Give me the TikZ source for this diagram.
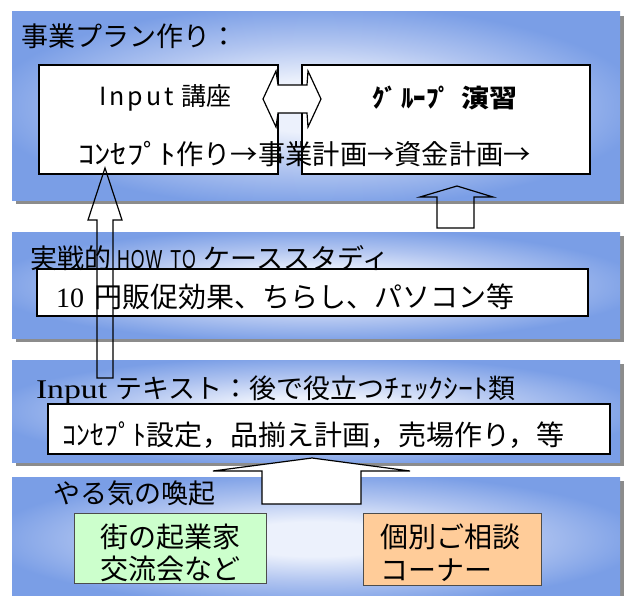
\documentclass[tikz,border=0pt]{standalone}
\usepackage{fontspec}
\usepackage{graphicx}
\usetikzlibrary{shadows}
\setmainfont{Noto Sans CJK JP}
\newfontfamily\ser{Liberation Serif}
\newfontfamily\lsans{Liberation Sans}
\definecolor{pblue}{RGB}{122,158,230}
\definecolor{pmid}{RGB}{176,196,240}
\definecolor{pcenter}{RGB}{236,241,252}
\definecolor{gbox}{RGB}{204,255,204}
\definecolor{obox}{RGB}{255,204,153}
\pgfdeclareradialshading{panelshade}{\pgfpoint{0bp}{0bp}}{color(0bp)=(pcenter); color(7bp)=(pcenter); color(17bp)=(pmid); color(27bp)=(pblue); color(50bp)=(pblue)}
\newcommand{\fs}[1]{\fontsize{#1}{#1}\selectfont}
\tikzset{
  panel/.style={shading=panelshade, anchor=north west, inner sep=0pt, outer sep=0pt,
    drop shadow={shadow xshift=4pt, shadow yshift=-4pt, opacity=0.45, fill=black}},
  wbox/.style={draw=black, line width=1.1pt, fill=white, anchor=north west, inner sep=0pt, outer sep=0pt},
  cbox/.style={draw=black!70, line width=0.8pt, anchor=north west, inner sep=0pt, outer sep=0pt},
  blockarrow/.style={draw=black, line width=1.2pt, line join=miter},
  txt/.style={inner sep=0pt, outer sep=0pt, text=black},
}
\begin{document}
\begin{tikzpicture}[x=1pt,y=-1pt]
\useasboundingbox (0,0) rectangle (631,596);
\fill[white] (0,0) rectangle (631,596);
% panels
\node[panel, minimum width=608pt, minimum height=188pt] (p1) at (12,12) {};
\node[panel, minimum width=608pt, minimum height=106pt] (p2) at (12,232) {};
\node[panel, minimum width=608pt, minimum height=102pt] (p3) at (12,360) {};
\node[panel, minimum width=608pt, minimum height=124pt] (p4) at (12,477) {};
% inner boxes
\node[wbox, minimum width=239pt, minimum height=109pt] (b1) at (39,65) {};
\node[wbox, minimum width=288pt, minimum height=109pt] (b2) at (302,65) {};
\node[wbox, minimum width=551pt, minimum height=47pt] (b3) at (37,269) {};
\node[wbox, minimum width=562pt, minimum height=50pt] (b4) at (48,404) {};
\node[cbox, fill=gbox, minimum width=192pt, minimum height=70pt] (g) at (74,513) {};
\node[cbox, fill=obox, minimum width=178pt, minimum height=72pt] (o) at (363,513) {};
% double arrow between b1 and b2
\draw[blockarrow, fill=white] (263,99) -- (276,71) -- (278,85) -- (307,85) -- (308,71) -- (321,99)
  -- (308,127) -- (307,113) -- (278,113) -- (276,127) -- cycle;
% texts
\node[txt, anchor=west] (t1) at (21,36) {\fs{27}事業プラン作り：};
\node[txt, anchor=west] (t2) at (99,98) {\fs{25}I\hspace{3pt}n\hspace{3pt}p\hspace{3pt}u\hspace{3pt}t\hspace{8pt}講座};
\node[txt, anchor=west] (t3) at (372,98) {\fs{25}\bfseries ｸﾞ\hspace{4pt}ﾙｰﾌﾟ\hspace{10pt}\scalebox{1.12}[1]{演習}};
\node[txt, anchor=west] (t4) at (78,154) {\fs{27.3}\scalebox{1.2}[1]{ｺﾝｾﾌﾟﾄ}作り→事業計画→資金計画→};
\node[txt, anchor=west] (t5) at (30,258) {\fs{27}実戦的\hspace{6pt}\scalebox{0.68}[1]{\lsans\fs{26}H\hspace{1.5pt}O\hspace{1.5pt}W\hspace{12pt}T\hspace{1.5pt}O}\hspace{8pt}ケーススタディ};
\node[txt, anchor=west] (t6) at (56,297) {\fs{28}{\ser 10}\hspace{10pt}円販促効果、ちらし、パソコン等};
\node[txt, anchor=west] (t7) at (36,390) {\fs{27}{\ser\scalebox{1.25}[1]{Input}}\hspace{8pt}テキスト：後で役立つ\scalebox{1.1}[1]{ﾁｪｯｸｼｰﾄ}類};
\node[txt, anchor=west] (t8) at (62,435) {\fs{28}ｺﾝｾﾌﾟﾄ設定，品揃え計画，売場作り，等};
\node[txt, anchor=west] (t9) at (53,493) {\fs{27}やる気の喚起};
\node[txt] (g1) at (170,537) {\fs{28}街の起業家};
\node[txt] (g2) at (170,569) {\fs{28}交流会など};
\node[txt, anchor=west] (o1) at (380,537) {\fs{28}個別ご相談};
\node[txt, anchor=west] (o2) at (380,570) {\fs{28}コーナー};
% thin up arrow from Input text to Input lecture
\draw[blockarrow] (105,168) -- (122,220) -- (113,220) -- (113,378) -- (97,378) -- (97,220) -- (88,220) -- cycle;
% up arrow from case study to group exercise
\draw[blockarrow] (457,186) -- (493,197) -- (474,197) -- (474,228) -- (437,228) -- (437,197) -- (420,197) -- cycle;
% big up arrow from motivation to Input text
\draw[blockarrow, fill=white] (312,458) -- (410,471) -- (361,471) -- (361,504) -- (262,504) -- (262,471) -- (213,471) -- cycle;
\end{tikzpicture}
\end{document}
